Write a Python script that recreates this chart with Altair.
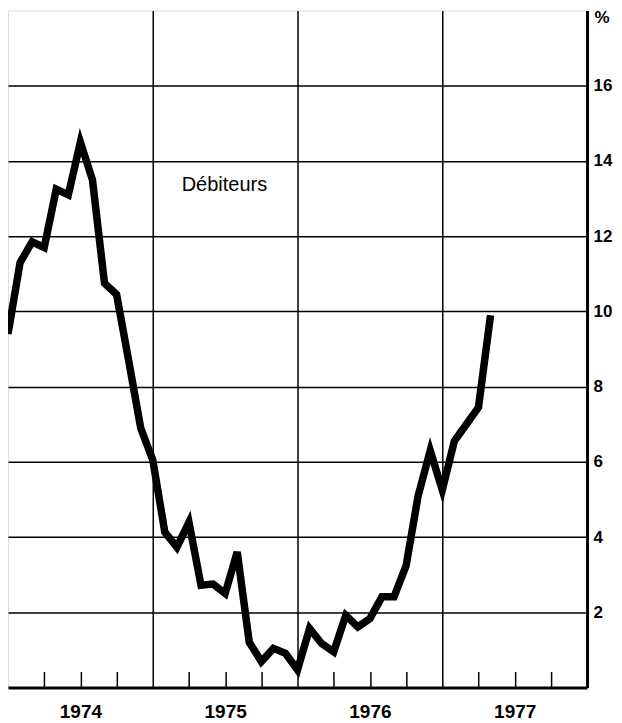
import altair as alt
import pandas as pd

# Monthly series (months since January 1974), in %
months = list(range(0, 41))
values = [9.4, 11.3, 11.85, 11.7, 13.25, 13.1, 14.5, 13.5, 10.75, 10.45,
          8.7, 6.9, 6.05, 4.13, 3.73, 4.39, 2.72, 2.75, 2.5, 3.6,
          1.2, 0.69, 1.04, 0.91, 0.47, 1.57, 1.17, 0.95, 1.92, 1.61,
          1.83, 2.41, 2.41, 3.24, 5.1, 6.3, 5.25, 6.55, 7.0, 7.45, 9.9]

years = ["1974", "1975", "1976", "1977"]
year_bounds = [12, 24, 36]
year_mids = [6, 18, 30, 42]
quarter_ticks = [3, 6, 9, 15, 18, 21, 27, 30, 33, 39, 42, 45]
y_ticks = [2, 4, 6, 8, 10, 12, 14, 16]

label_text = ["Débiteurs"]
label_month = [14.4]
label_value = [13.37]

df = pd.DataFrame({"month": months, "value": values})
lab = pd.DataFrame({"month": label_month, "value": label_value, "text": label_text})

FONT = "Liberation Sans"
xscale = alt.Scale(domain=[0, 48], nice=False, zero=False)
yscale = alt.Scale(domain=[0, 18], nice=False)

year_expr = "[" + ",".join("'%s'" % y for y in years) + "][floor(datum.value/12)]"

line = alt.Chart(df).mark_line(color="black", strokeWidth=7.5, clip=True,
                               strokeJoin="miter", strokeCap="butt").encode(
    x=alt.X("month:Q", scale=xscale,
            axis=alt.Axis(orient="bottom", values=year_bounds, grid=True, gridColor="black",
                          gridWidth=1.5, gridOpacity=1, labels=False, ticks=False,
                          domain=False, title=None)),
    y=alt.Y("value:Q", scale=yscale,
            axis=alt.Axis(orient="right", values=y_ticks, grid=True, gridColor="black",
                          gridWidth=1.5, gridOpacity=1, ticks=False, domain=True,
                          domainColor="black", domainWidth=3, labelFont=FONT,
                          labelFontSize=17, labelFontWeight="bold", labelColor="black",
                          labelPadding=6, title="%", titleAngle=0, titleFont=FONT,
                          titleFontSize=17, titleFontWeight="bold", titleColor="black",
                          titleAlign="left", titleBaseline="middle", titleX=7, titleY=7))
)

text = alt.Chart(lab).mark_text(align="left", baseline="middle", font=FONT,
                                fontSize=20, color="black").encode(
    x=alt.X("month:Q", scale=xscale,
            axis=alt.Axis(orient="bottom", values=year_mids, labelExpr=year_expr,
                          grid=False, ticks=False, domain=True, domainColor="black",
                          domainWidth=3, labelFont=FONT, labelFontSize=19,
                          labelFontWeight="bold", labelColor="black", labelPadding=15,
                          title=None)),
    y=alt.Y("value:Q", scale=yscale, axis=None),
    text="text:N",
)

ticks = alt.Chart(df).mark_line(opacity=0).encode(
    x=alt.X("month:Q", scale=xscale,
            axis=alt.Axis(orient="bottom", values=quarter_ticks, offset=-16, tickSize=16,
                          tickWidth=1.5, tickColor="black", labels=False, domain=False,
                          grid=False, title=None)),
    y=alt.Y("value:Q", scale=yscale, axis=None),
)

chart = alt.layer(line, text, ticks).resolve_axis(
    x="independent", y="independent"
).properties(
    width=580, height=678,
    padding={"left": 0, "top": 0, "right": 2, "bottom": 0},
).configure_view(stroke="black", strokeWidth=2.5).configure(background="white")

chart.save("out.html", embed_options={"renderer": "svg", "actions": False})
